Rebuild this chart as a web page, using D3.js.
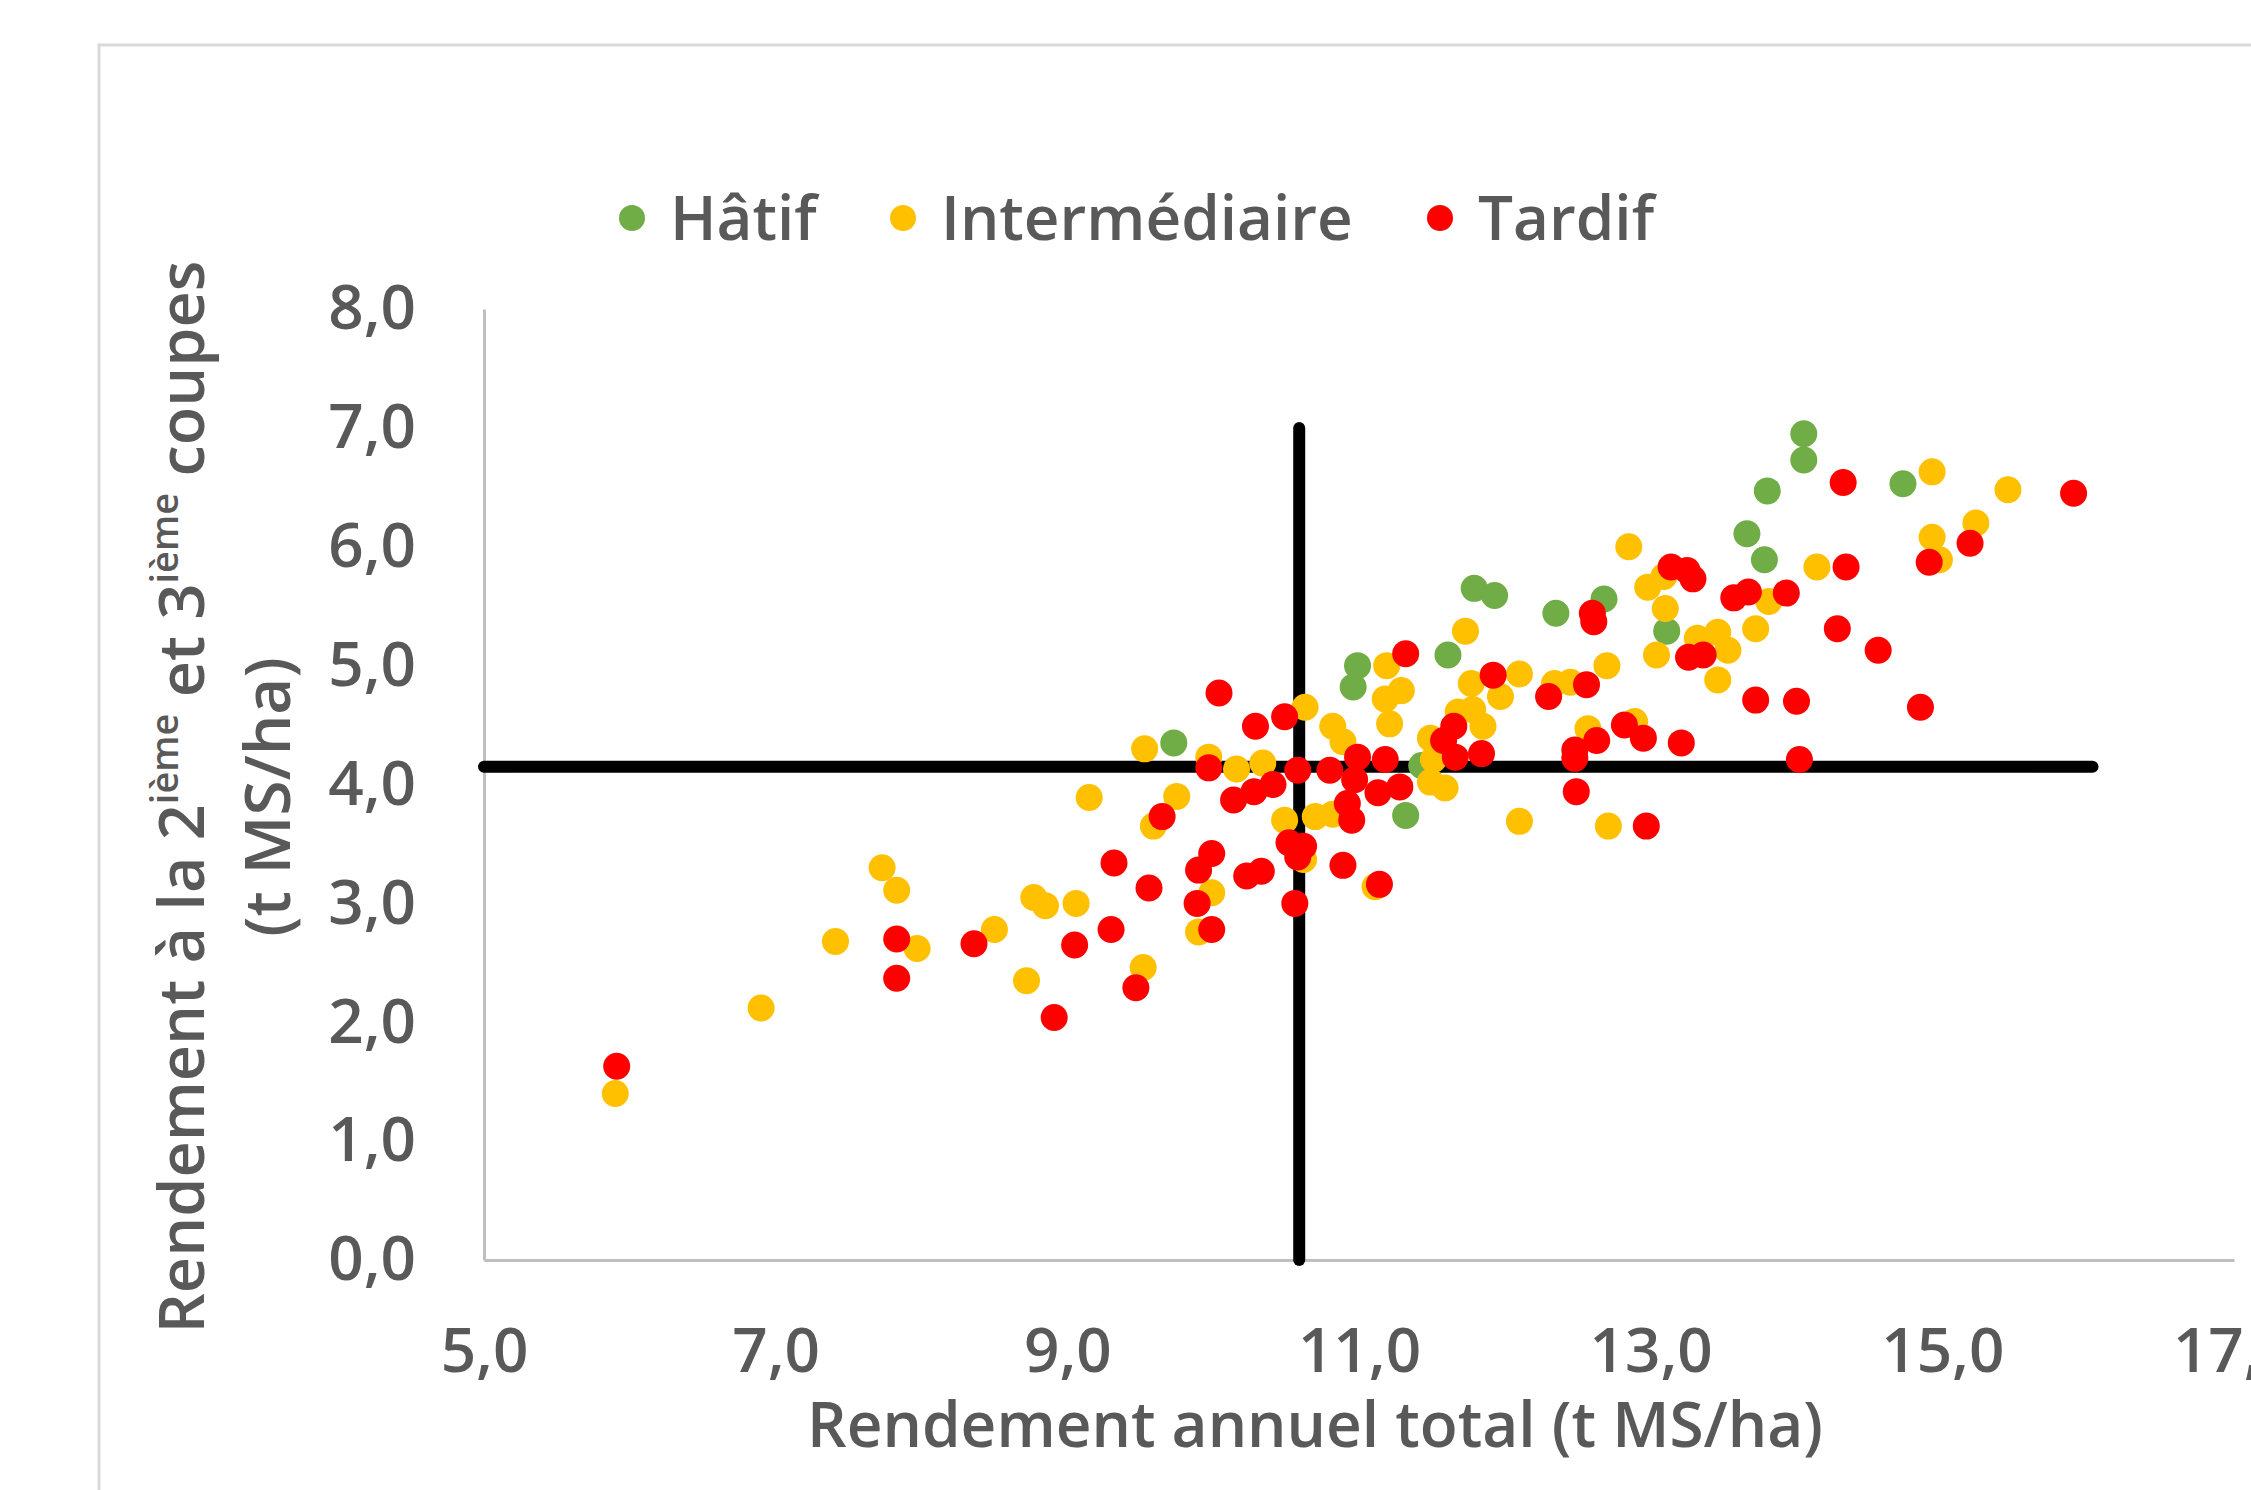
<!DOCTYPE html>
<html>
<head>
<meta charset="utf-8">
<script src="https://cdn.jsdelivr.net/npm/d3@7"></script>
<style>
  body { margin: 0; background: #fff; }
  text { font-family: "Open Sans", "Noto Sans", sans-serif; font-weight: 600; fill: #595959; }
</style>
</head>
<body>
<svg id="chart" width="2251" height="1490"></svg>
<script>
// values: [rendement annuel total, rendement 2e+3e coupes]
const hatif = [
  [9.73, 4.35], [10.96, 4.82], [10.99, 5.00], [11.32, 3.74], [11.43, 4.16], [11.61, 5.09],
  [11.79, 5.65], [11.93, 5.59], [12.35, 5.44], [12.68, 5.56], [13.11, 5.29], [13.66, 6.11],
  [13.78, 5.89], [13.80, 6.47], [14.05, 6.95], [14.05, 6.73], [14.73, 6.53]
];

const intermediaire = [
  [5.90, 1.40], [6.90, 2.12], [7.41, 2.68], [7.73, 3.30], [7.83, 3.11], [7.97, 2.62],
  [8.50, 2.78], [8.72, 2.35], [8.77, 3.05], [8.85, 2.98], [9.06, 3.00], [9.15, 3.89],
  [9.52, 2.46], [9.59, 3.65], [9.53, 4.30], [9.75, 3.90], [9.90, 2.76], [9.99, 3.09],
  [9.97, 4.23], [10.16, 4.13], [10.34, 4.18], [10.49, 3.70], [10.63, 4.65], [10.70, 3.73],
  [10.82, 3.75], [10.82, 4.49], [10.89, 4.36], [10.62, 3.37], [11.11, 3.14], [11.18, 4.72],
  [11.19, 5.00], [11.21, 4.51], [11.29, 4.79], [11.49, 4.39], [11.51, 4.21], [11.49, 4.02],
  [11.59, 3.97], [11.68, 4.61], [11.73, 5.29], [11.77, 4.85], [11.78, 4.63], [11.85, 4.49],
  [11.97, 4.74], [12.10, 4.93], [12.10, 3.69], [12.34, 4.85], [12.45, 4.86], [12.57, 4.47],
  [12.70, 5.00], [12.71, 3.65], [12.85, 6.00], [12.89, 4.53], [12.98, 5.66], [13.04, 5.09],
  [13.09, 5.75], [13.10, 5.48], [13.32, 5.23], [13.46, 5.28], [13.46, 4.88], [13.53, 5.13],
  [13.72, 5.31], [13.81, 5.54], [14.14, 5.83], [14.93, 6.63], [14.93, 6.08], [14.98, 5.89],
  [15.23, 6.20], [15.45, 6.48]
];

const tardif = [
  [5.91, 1.63], [7.83, 2.70], [7.83, 2.37], [8.36, 2.66], [8.91, 2.04], [9.05, 2.65],
  [9.30, 2.78], [9.32, 3.34], [9.47, 2.29], [9.56, 3.13], [9.65, 3.73], [9.89, 3.00],
  [9.90, 3.28], [9.99, 3.42], [9.99, 2.78], [9.97, 4.14], [10.04, 4.77], [10.14, 3.87],
  [10.23, 3.23], [10.28, 3.94], [10.29, 4.49], [10.33, 3.27], [10.41, 4.00], [10.49, 4.57],
  [10.52, 3.51], [10.56, 3.00], [10.58, 3.39], [10.58, 4.12], [10.62, 3.48], [10.80, 4.12],
  [10.89, 3.32], [10.92, 3.84], [10.95, 3.70], [10.97, 4.04], [10.99, 4.23], [11.13, 3.93],
  [11.14, 3.16], [11.18, 4.21], [11.28, 3.98], [11.32, 5.10], [11.58, 4.37], [11.65, 4.49],
  [11.66, 4.23], [11.84, 4.26], [11.92, 4.92], [12.30, 4.74], [12.48, 4.29], [12.48, 4.22],
  [12.49, 3.94], [12.56, 4.84], [12.60, 5.44], [12.61, 5.37], [12.63, 4.37], [12.82, 4.50],
  [12.95, 4.39], [12.97, 3.65], [13.14, 5.83], [13.21, 4.35], [13.25, 5.80], [13.29, 5.73],
  [13.26, 5.07], [13.36, 5.09], [13.57, 5.57], [13.67, 5.62], [13.72, 4.71], [13.93, 5.61],
  [14.00, 4.70], [14.02, 4.21], [14.28, 5.31], [14.34, 5.83], [14.56, 5.13], [14.85, 4.65],
  [14.91, 5.87], [14.32, 6.54], [15.90, 6.45], [15.19, 6.03]
];

const seriesNames = ["Hâtif", "Intermédiaire", "Tardif"];
const xTicks = [5, 7, 9, 11, 13, 15, 17];
const yTicks = [0, 1, 2, 3, 4, 5, 6, 7, 8];
// quadrant lines: horizontal at y, vertical at x
const refH = { y: 4.15, x0: 5, x1: 16.03 };
const refV = { x: 10.59, y0: 0, y1: 7.0 };

const colors = ["#70ad47", "#ffc000", "#ff0000"];
const series = [hatif, intermediaire, tardif];

let svg = d3.select("#chart");
let margin = { top: 309, right: 17, bottom: 230, left: 484 };
let width = 2251, height = 1490;

let x = d3.scaleLinear().domain([5, 17]).range([margin.left, width - margin.right]);
let y = d3.scaleLinear().domain([0, 8]).range([height - margin.bottom, margin.top]);
let fmt = d => d3.format(".1f")(d).replace(".", ",");

// chart area border (cropped at right and bottom)
svg.append("rect").attr("x", 99).attr("y", 45).attr("width", 2300).attr("height", 1600)
  .attr("fill", "#fff").attr("stroke", "#d9d9d9").attr("stroke-width", 3);

// axes
let xAxis = g => g.attr("transform", `translate(0,${y(0)})`)
  .call(d3.axisBottom(x).tickValues(xTicks).tickFormat(fmt).tickSize(0).tickPadding(68))
  .call(g => g.select(".domain").attr("stroke", "#bfbfbf").attr("stroke-width", 3));
let yAxis = g => g.attr("transform", `translate(${x(5)},0)`)
  .call(d3.axisLeft(y).tickValues(yTicks).tickFormat(fmt).tickSize(0).tickPadding(68))
  .call(g => g.select(".domain").attr("stroke", "#bfbfbf").attr("stroke-width", 3));

svg.append("g").call(xAxis);
svg.append("g").call(yAxis);
svg.selectAll(".tick text").attr("font-size", 62).attr("font-family", null).attr("fill", "#595959");

// quadrant lines
let g = svg.append("g");
g.append("line").attr("x1", x(refH.x0)).attr("x2", x(refH.x1)).attr("y1", y(refH.y)).attr("y2", y(refH.y))
  .attr("stroke", "#000").attr("stroke-width", 12).attr("stroke-linecap", "round");
g.append("line").attr("x1", x(refV.x)).attr("x2", x(refV.x)).attr("y1", y(refV.y0)).attr("y2", y(refV.y1))
  .attr("stroke", "#000").attr("stroke-width", 12).attr("stroke-linecap", "round");

// points
series.forEach((data, i) => {
  svg.append("g").selectAll("circle").data(data).join("circle")
    .attr("cx", d => x(d[0])).attr("cy", d => y(d[1])).attr("r", 13.5)
    .attr("fill", colors[i]);
});

// legend
let legendX = [632, 903, 1440];
let legend = svg.append("g").attr("transform", "translate(0,218)");
seriesNames.forEach((name, i) => {
  legend.append("circle").attr("cx", legendX[i]).attr("cy", 0).attr("r", 13).attr("fill", colors[i]);
  legend.append("text").attr("x", legendX[i] + 38).attr("y", 0).attr("dy", "0.36em")
    .attr("font-size", 62).text(name);
});

// axis titles
svg.append("text").attr("x", 1315).attr("y", 1447)
  .attr("text-anchor", "middle").attr("font-size", 64)
  .attr("textLength", 1016).attr("lengthAdjust", "spacingAndGlyphs")
  .text("Rendement annuel total (t MS/ha)");

let yt = svg.append("text").attr("transform", "translate(204,797) rotate(-90)")
  .attr("text-anchor", "middle").attr("font-size", 63);
yt.append("tspan").text("Rendement à la 2");
yt.append("tspan").attr("font-size", 38).attr("dy", -26).text("ième");
yt.append("tspan").attr("dy", 26).text(" et 3");
yt.append("tspan").attr("font-size", 38).attr("dy", -26).text("ième");
yt.append("tspan").attr("dy", 26).text(" coupes");

svg.append("text").attr("transform", "translate(290,797) rotate(-90)")
  .attr("text-anchor", "middle").attr("font-size", 64).text("(t MS/ha)");
</script>
</body>
</html>
